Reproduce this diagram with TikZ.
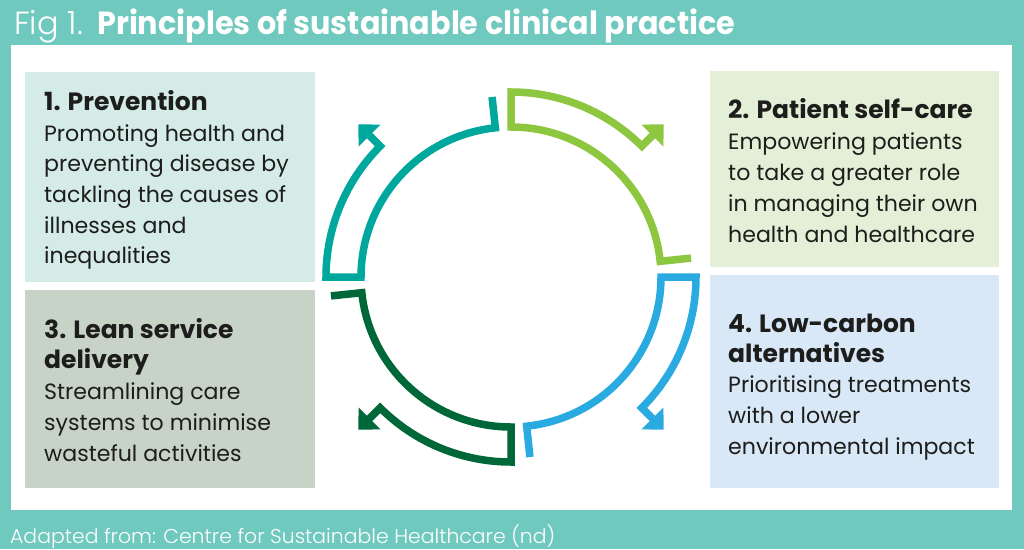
\documentclass[tikz,border=0pt]{standalone}
\usepackage{fontspec}
\setmainfont{Poppins}
\newfontfamily\poplight{Poppins}[UprightFont={* Light}]
\usetikzlibrary{arrows.meta,calc}
\definecolor{bgTeal}{HTML}{6FC9BF}
\definecolor{arTeal}{HTML}{00A79D}
\definecolor{arGreen}{HTML}{8DC63F}
\definecolor{arBlue}{HTML}{29ABE2}
\definecolor{arDark}{HTML}{006838}
\definecolor{bxOne}{HTML}{D4EBE7}
\definecolor{bxTwo}{HTML}{E3EFD6}
\definecolor{bxThree}{HTML}{C8D3C8}
\definecolor{bxFour}{HTML}{D8E8F6}
\definecolor{ink}{HTML}{1D1D1B}
\tikzset{
  body/.style={anchor=base west, inner sep=0pt, text=ink, font=\fontsize{22.1}{27}\selectfont},
  head/.style={body, font=\fontsize{25}{27}\selectfont\bfseries},
  cyc/.style={line width=7.5pt, miter limit=10, line join=miter, line cap=butt},
}
\newcommand\cyclearrow[2]{%
  \draw[cyc, draw=#2, -{Triangle[length=16pt,width=30pt,fill=#2]}]
    ($(C)+(#1-84:181pt)$) -- ($(C)+(#1-84:150pt)$)
    arc[start angle=#1-84, end angle=#1, radius=150pt]
    -- ($(C)+(#1:185pt)$)
    arc[start angle=#1, end angle=#1-45, radius=185pt]
    -- ($(C)+(#1-45:216pt)$);}
\begin{document}
\begin{tikzpicture}[x=1pt,y=-1pt]
  \useasboundingbox (0,0) rectangle (1024,549);
  \fill[bgTeal] (0,0) rectangle (1024,549);
  \fill[white] (11,45) rectangle (1012,510);
  % boxes
  \fill[bxOne]   (25,72)  rectangle (315,282);
  \fill[bxTwo]   (710,71) rectangle (999,267);
  \fill[bxThree] (25,290) rectangle (315,488);
  \fill[bxFour]  (710,275) rectangle (999,488);
  % cycle
  \coordinate (C) at (511,277);
  \cyclearrow{90}{arGreen}
  \cyclearrow{180}{arTeal}
  \cyclearrow{270}{arDark}
  \cyclearrow{360}{arBlue}
  % title
  \node[anchor=base west, inner sep=0pt, text=white, font=\poplight\fontsize{32}{32}\selectfont] (fig) at (14,34) {Fig 1.};
  \node[anchor=base west, inner sep=0pt, text=white, font=\fontsize{32}{32}\selectfont\bfseries] (ttl) at (97,34) {\resizebox{638pt}{\height}{Principles of sustainable clinical practice}};
  \node[anchor=base west, inner sep=0pt, text=white, font=\poplight\fontsize{20}{20}\selectfont] (src) at (10,543) {\resizebox{545pt}{\height}{Adapted from: Centre for Sustainable Healthcare (nd)}};
  % box 1
  \node[head] (h1) at (44,110) {1. Prevention};
  \foreach \y/\t [count=\i] in {141/Promoting health and, 171/preventing disease by, 202/tackling the causes of, 233/illnesses and, 263/inequalities}
    \node[body] (p1-\i) at (44,\y) {\t};
  % box 2
  \node[head] (h2) at (728,118) {2. Patient self-care};
  \foreach \y/\t [count=\i] in {149/Empowering patients, 180/to take a greater role, 211/in managing their own, 242/health and healthcare}
    \node[body] (p2-\i) at (728,\y) {\t};
  % box 3
  \node[head] (h3a) at (44,338) {3. Lean service};
  \node[head] (h3b) at (44,368) {delivery};
  \foreach \y/\t [count=\i] in {399/Streamlining care, 430/systems to minimise, 461/wasteful activities}
    \node[body] (p3-\i) at (44,\y) {\t};
  % box 4
  \node[head] (h4a) at (728,332) {4. Low-carbon};
  \node[head] (h4b) at (728,362) {alternatives};
  \foreach \y/\t [count=\i] in {392/Prioritising treatments, 423/with a lower, 454/environmental impact}
    \node[body] (p4-\i) at (728,\y) {\t};
\end{tikzpicture}
\end{document}
